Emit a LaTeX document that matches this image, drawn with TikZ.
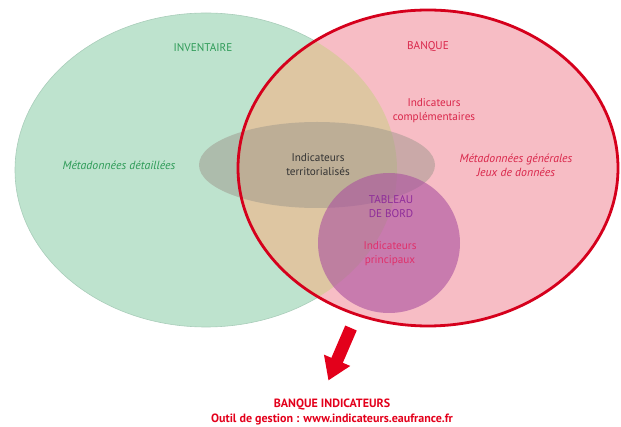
\documentclass[tikz,border=0pt]{standalone}
\usepackage{fontspec}
\setmainfont{PT Sans}
\usetikzlibrary{arrows.meta}
\definecolor{greenfill}{HTML}{BEE3CE}
\definecolor{greenedge}{HTML}{A9CDBA}
\definecolor{pinkfill}{HTML}{F7BDC5}
\definecolor{tanfill}{HTML}{DEC6A2}
\definecolor{greyfill}{HTML}{9E978C}
\definecolor{purplefill}{HTML}{A9509F}
\definecolor{redline}{HTML}{D5001C}
\definecolor{greentext}{HTML}{2E9B57}
\definecolor{redtext}{HTML}{D9264A}
\definecolor{purpletext}{HTML}{8E2C9A}
\definecolor{princtext}{HTML}{E0306A}
\definecolor{brightred}{HTML}{E3001B}
\tikzset{
  lbl/.style={font=\fontsize{11.2}{14}\selectfont, align=center, inner sep=0pt},
  ilbl/.style={lbl, font=\fontsize{11.8}{14}\selectfont\itshape},
  blbl/.style={lbl, font=\fontsize{12}{14}\selectfont\bfseries, text=brightred},
}
\begin{document}
\begin{tikzpicture}[x=1pt,y=-1pt]
\useasboundingbox (0,0) rectangle (621,427);
% green ellipse
\fill[greenfill, draw=greenedge, line width=0.6pt] (206,170) ellipse [x radius=191pt, y radius=157pt];
% pink ellipse
\fill[pinkfill] (428,168) ellipse [x radius=190pt, y radius=158pt];
% overlap
\begin{scope}
\clip (206,170) ellipse [x radius=191pt, y radius=157pt];
\fill[tanfill] (428,168) ellipse [x radius=190pt, y radius=158pt];
\end{scope}
% grey ellipse
\fill[greyfill, opacity=0.5] (317,165) ellipse [x radius=118pt, y radius=43pt];
% purple circle
\fill[purplefill, opacity=0.6] (389,243) ellipse [x radius=71pt, y radius=70pt];
% red outline
\draw[redline, line width=2.8pt] (428,168) ellipse [x radius=190pt, y radius=158pt];
% texts
\node[lbl, text=greentext] (inv) at (203,48) {INVENTAIRE};
\node[lbl, text=redtext] (banque) at (428,47) {BANQUE};
\node[ilbl, text=greentext] (metadet) at (119,165) {Métadonnées détaillées};
\node[lbl, text=redtext] (compl) at (434,111) {Indicateurs\\complémentaires};
\node[ilbl, text=redtext] (metagen) at (516,165) {Métadonnées générales\\Jeux de données};
\node[lbl, text=black!80] (terr) at (318,165) {Indicateurs\\territorialisés};
\node[lbl, text=purpletext] (tab) at (391,207) {TABLEAU\\DE BORD};
\node[lbl, text=princtext] (princ) at (390,254) {Indicateurs\\principaux};
% arrow
\coordinate (arrS) at (351,328);
\coordinate (arrT) at (328.4,380.5);
\draw[brightred, line width=12.5pt, -{Triangle[width=27pt,length=22pt]}] (arrS) -- (arrT);
\node[blbl] (bi) at (332,405) {BANQUE INDICATEURS};
\node[blbl] (outil) at (332,419) {Outil de gestion : www.indicateurs.eaufrance.fr};
\end{tikzpicture}
\end{document}
